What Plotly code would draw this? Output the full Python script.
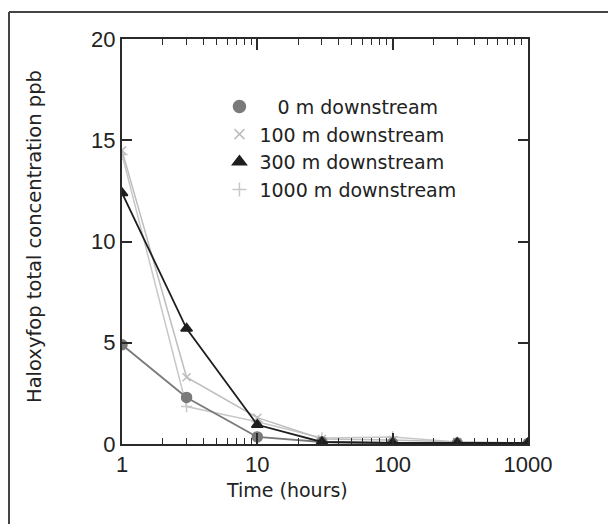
import plotly.graph_objects as go

times = [1, 3, 10, 30, 100, 300, 1000]
series_names = ["0 m downstream", "100 m downstream", "300 m downstream", "1000 m downstream"]
conc_0m = [4.9, 2.3, 0.35, 0.1, 0.05, 0.05, 0.02]
conc_100m = [14.5, 3.3, 1.3, 0.25, 0.2, 0.1, 0.05]
conc_300m = [12.4, 5.7, 0.95, 0.1, 0.05, 0.05, 0.05]
conc_1000m = [14.3, 1.85, 1.1, 0.3, 0.35, 0.1, 0.05]
y_tick_vals = [0, 5, 10, 15, 20]

styles = [
    dict(color="#7a7a7a", symbol="circle", size=10, lw=1.8),
    dict(color="#bdbdbd", symbol="x-thin", size=8, lw=1.5),
    dict(color="#1e1e1e", symbol="triangle-up", size=10, lw=1.8),
    dict(color="#c8c8c8", symbol="cross-thin", size=8, lw=1.5),
]
data = [conc_0m, conc_100m, conc_300m, conc_1000m]
labels = ["\u00a0\u00a0\u00a0" + series_names[0]] + series_names[1:]

fig = go.Figure()
# draw order: light lines first, then darker ones on top
for i in [3, 1, 0, 2]:
    s = styles[i]
    fig.add_trace(go.Scatter(
        x=times, y=data[i], mode="lines+markers", showlegend=False,
        line=dict(color=s["color"], width=s["lw"]),
        marker=dict(color=s["color"], symbol=s["symbol"], size=s["size"],
                    line=dict(color=s["color"], width=1.5)),
    ))
for i in range(4):
    s = styles[i]
    fig.add_trace(go.Scatter(
        x=[None], y=[None], mode="markers", name=labels[i],
        marker=dict(color=s["color"], symbol=s["symbol"], size=s["size"] + 2,
                    line=dict(color=s["color"], width=1.5)),
    ))

axis_common = dict(showline=True, linecolor="#2a2a2a", linewidth=2, mirror="allticks",
                   ticks="inside", tickcolor="#2a2a2a", showgrid=False, zeroline=False)

fig.update_xaxes(type="log", range=[0, 3], tickmode="linear", tick0=0, dtick=1,
                 ticklen=11, tickwidth=1.5,
                 minor=dict(ticks="inside", dtick="D1", ticklen=6, tickwidth=1.2,
                            tickcolor="#2a2a2a", showgrid=False),
                 tickfont=dict(family="Liberation Sans, Arial", size=22, color="#222"),
                 **axis_common)
fig.update_yaxes(range=[0, 20], tickvals=y_tick_vals, ticklen=10, tickwidth=1.5,
                 tickfont=dict(family="Liberation Sans, Arial", size=22, color="#222"),
                 **axis_common)

W, H = 608, 516
L, R, T, B = 114, 88, 31, 80
PW, PH = W - L - R, H - T - B

fig.update_layout(
    width=W, height=H,
    margin=dict(l=L, r=R, t=T, b=B),
    paper_bgcolor="white", plot_bgcolor="white",
    legend=dict(x=0.24, y=0.88, xanchor="left", yanchor="top",
                bgcolor="rgba(0,0,0,0)", tracegroupgap=0, itemsizing="trace",
                font=dict(family="DejaVu Sans", size=19, color="#222")),
    annotations=[
        dict(text="Time (hours)", xref="paper", yref="paper", x=(279 - L) / PW, y=-46 / PH,
             xanchor="center", yanchor="middle", showarrow=False,
             font=dict(family="DejaVu Sans", size=19, color="#222")),
        dict(text="Haloxyfop total concentration ppb", xref="paper", yref="paper",
             x=(26 - L) / PW, y=(PH + T - 229) / PH, textangle=-90,
             xanchor="center", yanchor="middle", showarrow=False,
             font=dict(family="DejaVu Sans", size=19.5, color="#222")),
    ],
    shapes=[
        dict(type="line", xref="paper", yref="paper", x0=(1 - L) / PW, x1=(1 - L) / PW,
             y0=(H - B - 4) / PH, y1=-B / PH, line=dict(color="#444", width=2)),
        dict(type="line", xref="paper", yref="paper", x0=(1 - L) / PW, x1=(603 - L) / PW,
             y0=(H - B - 4) / PH, y1=(H - B - 4) / PH, line=dict(color="#444", width=2)),
        dict(type="line", xref="paper", yref="paper", x0=(603 - L) / PW, x1=(603 - L) / PW,
             y0=(H - B - 4) / PH, y1=-30 / PH, line=dict(color="#444", width=2)),
    ],
)

fig.write_html("out.html")
